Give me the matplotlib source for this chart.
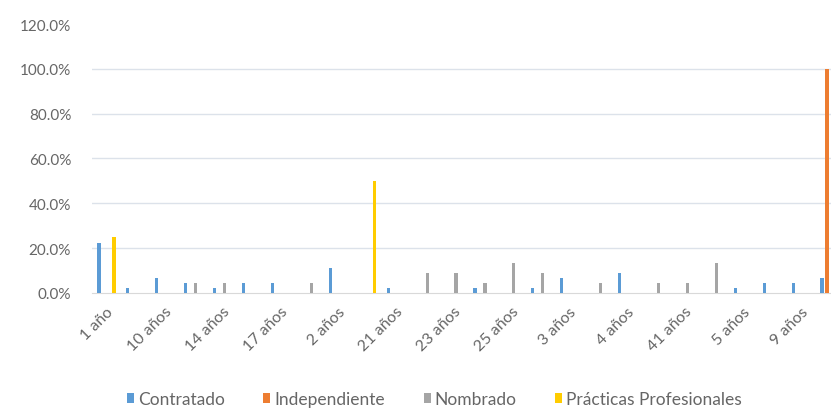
import matplotlib.pyplot as plt
import numpy as np
from matplotlib.ticker import PercentFormatter

plt.rcParams['font.family'] = ['Lato', 'DejaVu Sans']

# antigüedad (orden alfabético, como sale de la tabla dinámica)
categorias = ["1 año", "1 año y medio", "10 años", "12 años", "14 años", "15 años",
              "17 años", "18 años", "2 años", "20 años", "21 años", "22 años",
              "23 años", "24 años", "25 años", "26 años", "3 años", "30 años",
              "4 años", "40 años", "41 años", "45 años", "5 años", "6 años",
              "9 años", "Menos de 1 año"]

# porcentaje dentro de cada condición laboral
contratado = [22.2, 2.2, 6.7, 4.4, 2.2, 4.4, 4.4, 0, 11.1, 0, 2.2, 0, 0,
              2.2, 0, 2.2, 6.7, 0, 8.9, 0, 0, 0, 2.2, 4.4, 4.4, 6.7]
independiente = [0] * 25 + [100.0]
nombrado = [0, 0, 0, 4.4, 4.4, 0, 0, 4.4, 0, 0, 0, 8.9, 8.9,
            4.4, 13.3, 8.9, 0, 4.4, 0, 4.4, 4.4, 13.3, 0, 0, 0, 0]
practicas = [25.0] + [0] * 8 + [50.0] + [0] * 16

series = [("Contratado", contratado, "#5B9BD5"),
          ("Independiente", independiente, "#ED7D31"),
          ("Nombrado", nombrado, "#A5A5A5"),
          ("Prácticas Profesionales", practicas, "#FFCC00")]

fig = plt.figure(figsize=(8.31, 4.14), dpi=100)
ax = fig.add_axes([0.1107, 0.2899, 0.905, 0.6497])

x = np.arange(len(categorias))
paso = 0.173
ancho = 0.11
for i, (nombre, valores, color) in enumerate(series):
    ax.bar(x + (i - 1.5) * paso, valores, ancho, color=color, label=nombre, zorder=3)

ax.set_xlim(-0.5, len(categorias) - 0.5)
ax.set_ylim(0, 120)
ax.set_yticks(np.arange(0, 121, 20))
ax.yaxis.set_major_formatter(PercentFormatter(decimals=1))
for yv in range(20, 101, 20):
    ax.axhline(yv, color="#DCE2EA", lw=1.0, zorder=1)

ax.set_xticks(x[::2])
ax.set_xticklabels(categorias[::2], rotation=45, ha="right", rotation_mode="anchor")
ax.tick_params(axis="both", length=0, colors="#666666")
ax.tick_params(axis="x", pad=8, labelsize=11.5)
ax.tick_params(axis="y", pad=15, labelsize=11)

for lado in ["left", "right", "top"]:
    ax.spines[lado].set_visible(False)
ax.spines["bottom"].set_color("#D9D9D9")

fig.legend(loc="center", bbox_to_anchor=(0.523, 0.034), ncol=4, frameon=False,
           fontsize=12.5, handlelength=0.4, handleheight=0.5, handletextpad=0.25,
           columnspacing=2.2, labelcolor="#666666")

fig.savefig("out.png", dpi=100)
